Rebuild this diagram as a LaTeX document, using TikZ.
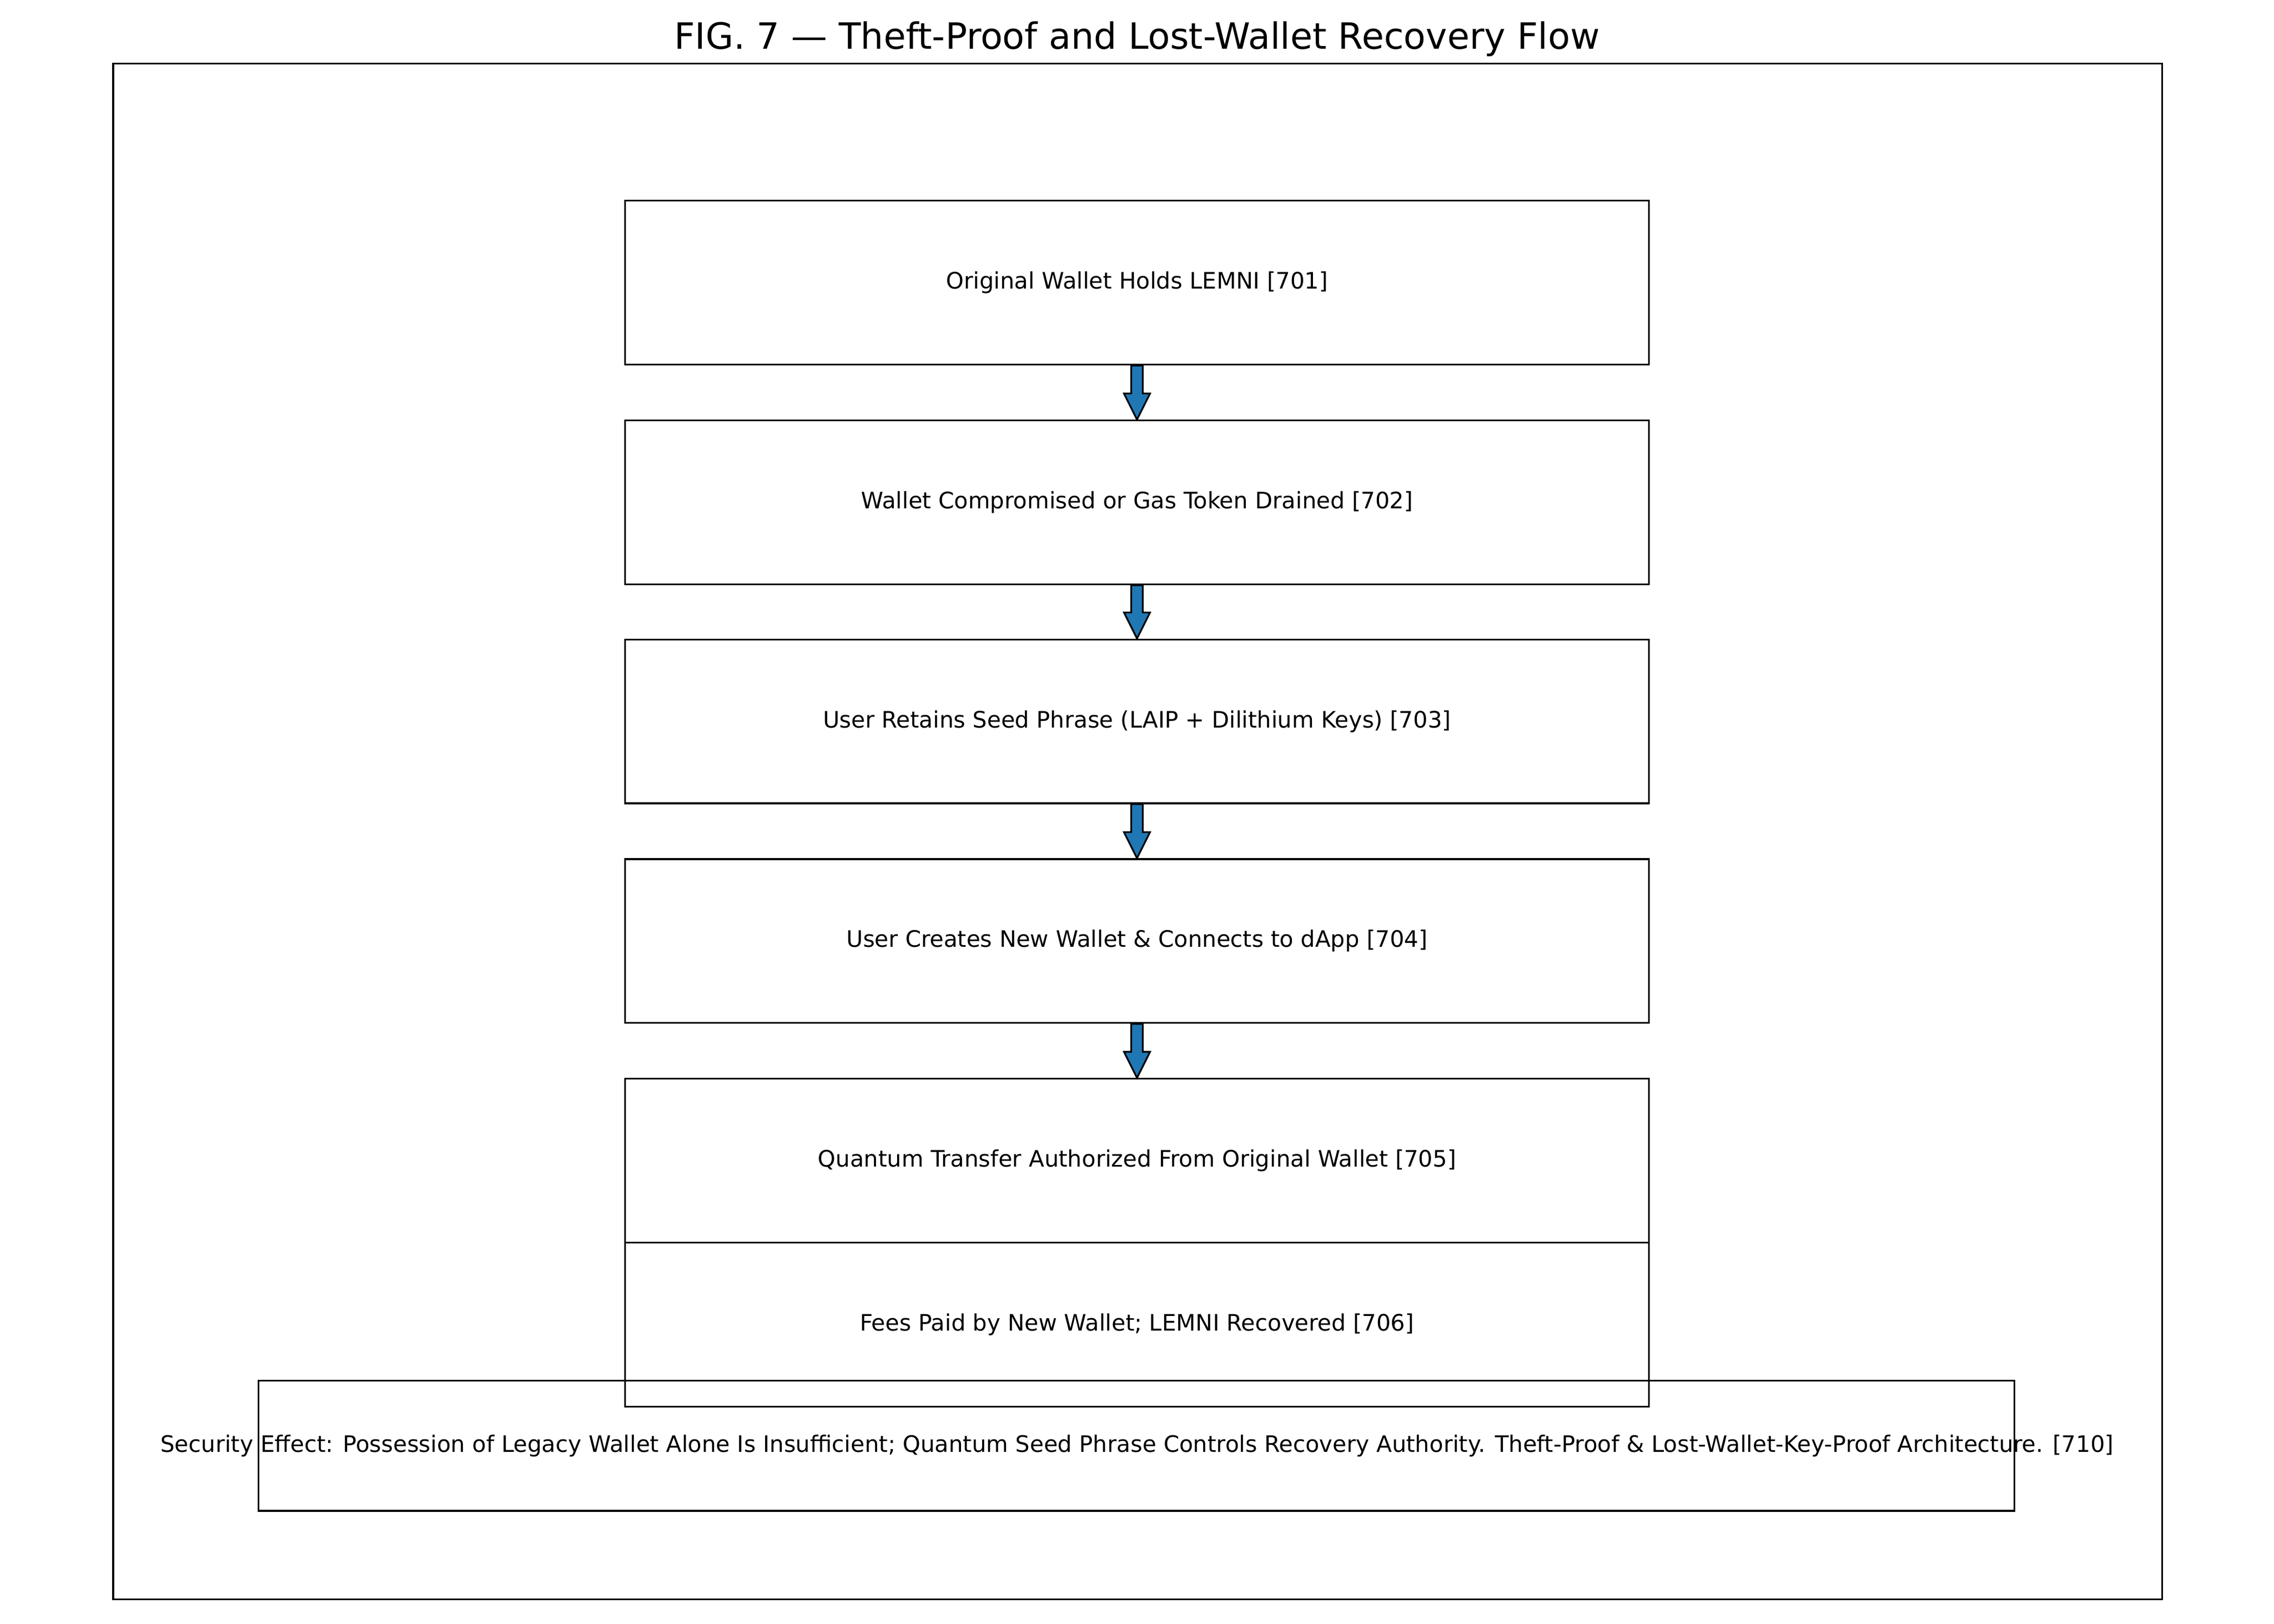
\documentclass[tikz,border=0pt]{standalone}
\usepackage{fontspec}
\setmainfont{DejaVu Sans}
\usetikzlibrary{positioning,calc}
\definecolor{flowblue}{HTML}{1F77B4}
\tikzset{
  flowstep/.style={draw, line width=0.9pt, minimum width=18.91cm, minimum height=3.03cm, inner sep=0pt, font=\fontsize{11.9}{14}\selectfont},
  fatarrow/.style={draw, line width=0.9pt, fill=flowblue, line join=miter},
}
\newcommand{\fatlink}[2]{%
  \path[fatarrow] ($(#1.south)+(-4,0)$) -- ($(#2.north)+(-4,-18)$) -- ($(#2.north)+(-9,-18)$)
    -- (#2.north) -- ($(#2.north)+(9,-18)$) -- ($(#2.north)+(4,-18)$) -- ($(#1.south)+(4,0)$) -- cycle;}
\begin{document}
\begin{tikzpicture}[x=0.02679cm, y=-0.02679cm]
      \useasboundingbox (0,0) rectangle (1568,1120);
      % Title and frame
      \node[font=\fontsize{19}{22}\selectfont] (title) at (784,27) {FIG. 7 — Theft-Proof and Lost-Wallet Recovery Flow};
      \draw[line width=0.9pt] (78,44) rectangle (1491,1103);

      % Steps
      \node[flowstep] (s701) at (784,195) {Original Wallet Holds LEMNI [701]};
      \node[flowstep] (s702) at (784,346.5) {Wallet Compromised or Gas Token Drained [702]};
      \node[flowstep] (s703) at (784,497.5) {User Retains Seed Phrase (LAIP + Dilithium Keys) [703]};
      \node[flowstep] (s704) at (784,649) {User Creates New Wallet \& Connects to dApp [704]};
      \node[flowstep] (s705) at (784,800.5) {Quantum Transfer Authorized From Original Wallet [705]};
      \node[flowstep] (s706) at (784,913.5) {Fees Paid by New Wallet; LEMNI Recovered [706]};

      % Security note
      \node[draw, line width=0.9pt, minimum width=32.44cm, minimum height=2.41cm, inner sep=0pt] (s710) at (783.5,997) {};
      \node[font=\fontsize{11.9}{14}\selectfont] (s710text) at (784,997) {Security Effect: Possession of Legacy Wallet Alone Is Insufficient; Quantum Seed Phrase Controls Recovery Authority. Theft-Proof \& Lost-Wallet-Key-Proof Architecture. [710]};

      % Arrows
      \foreach \a/\b in {s701/s702, s702/s703, s703/s704, s704/s705}
        \fatlink{\a}{\b};
\end{tikzpicture}
\end{document}
